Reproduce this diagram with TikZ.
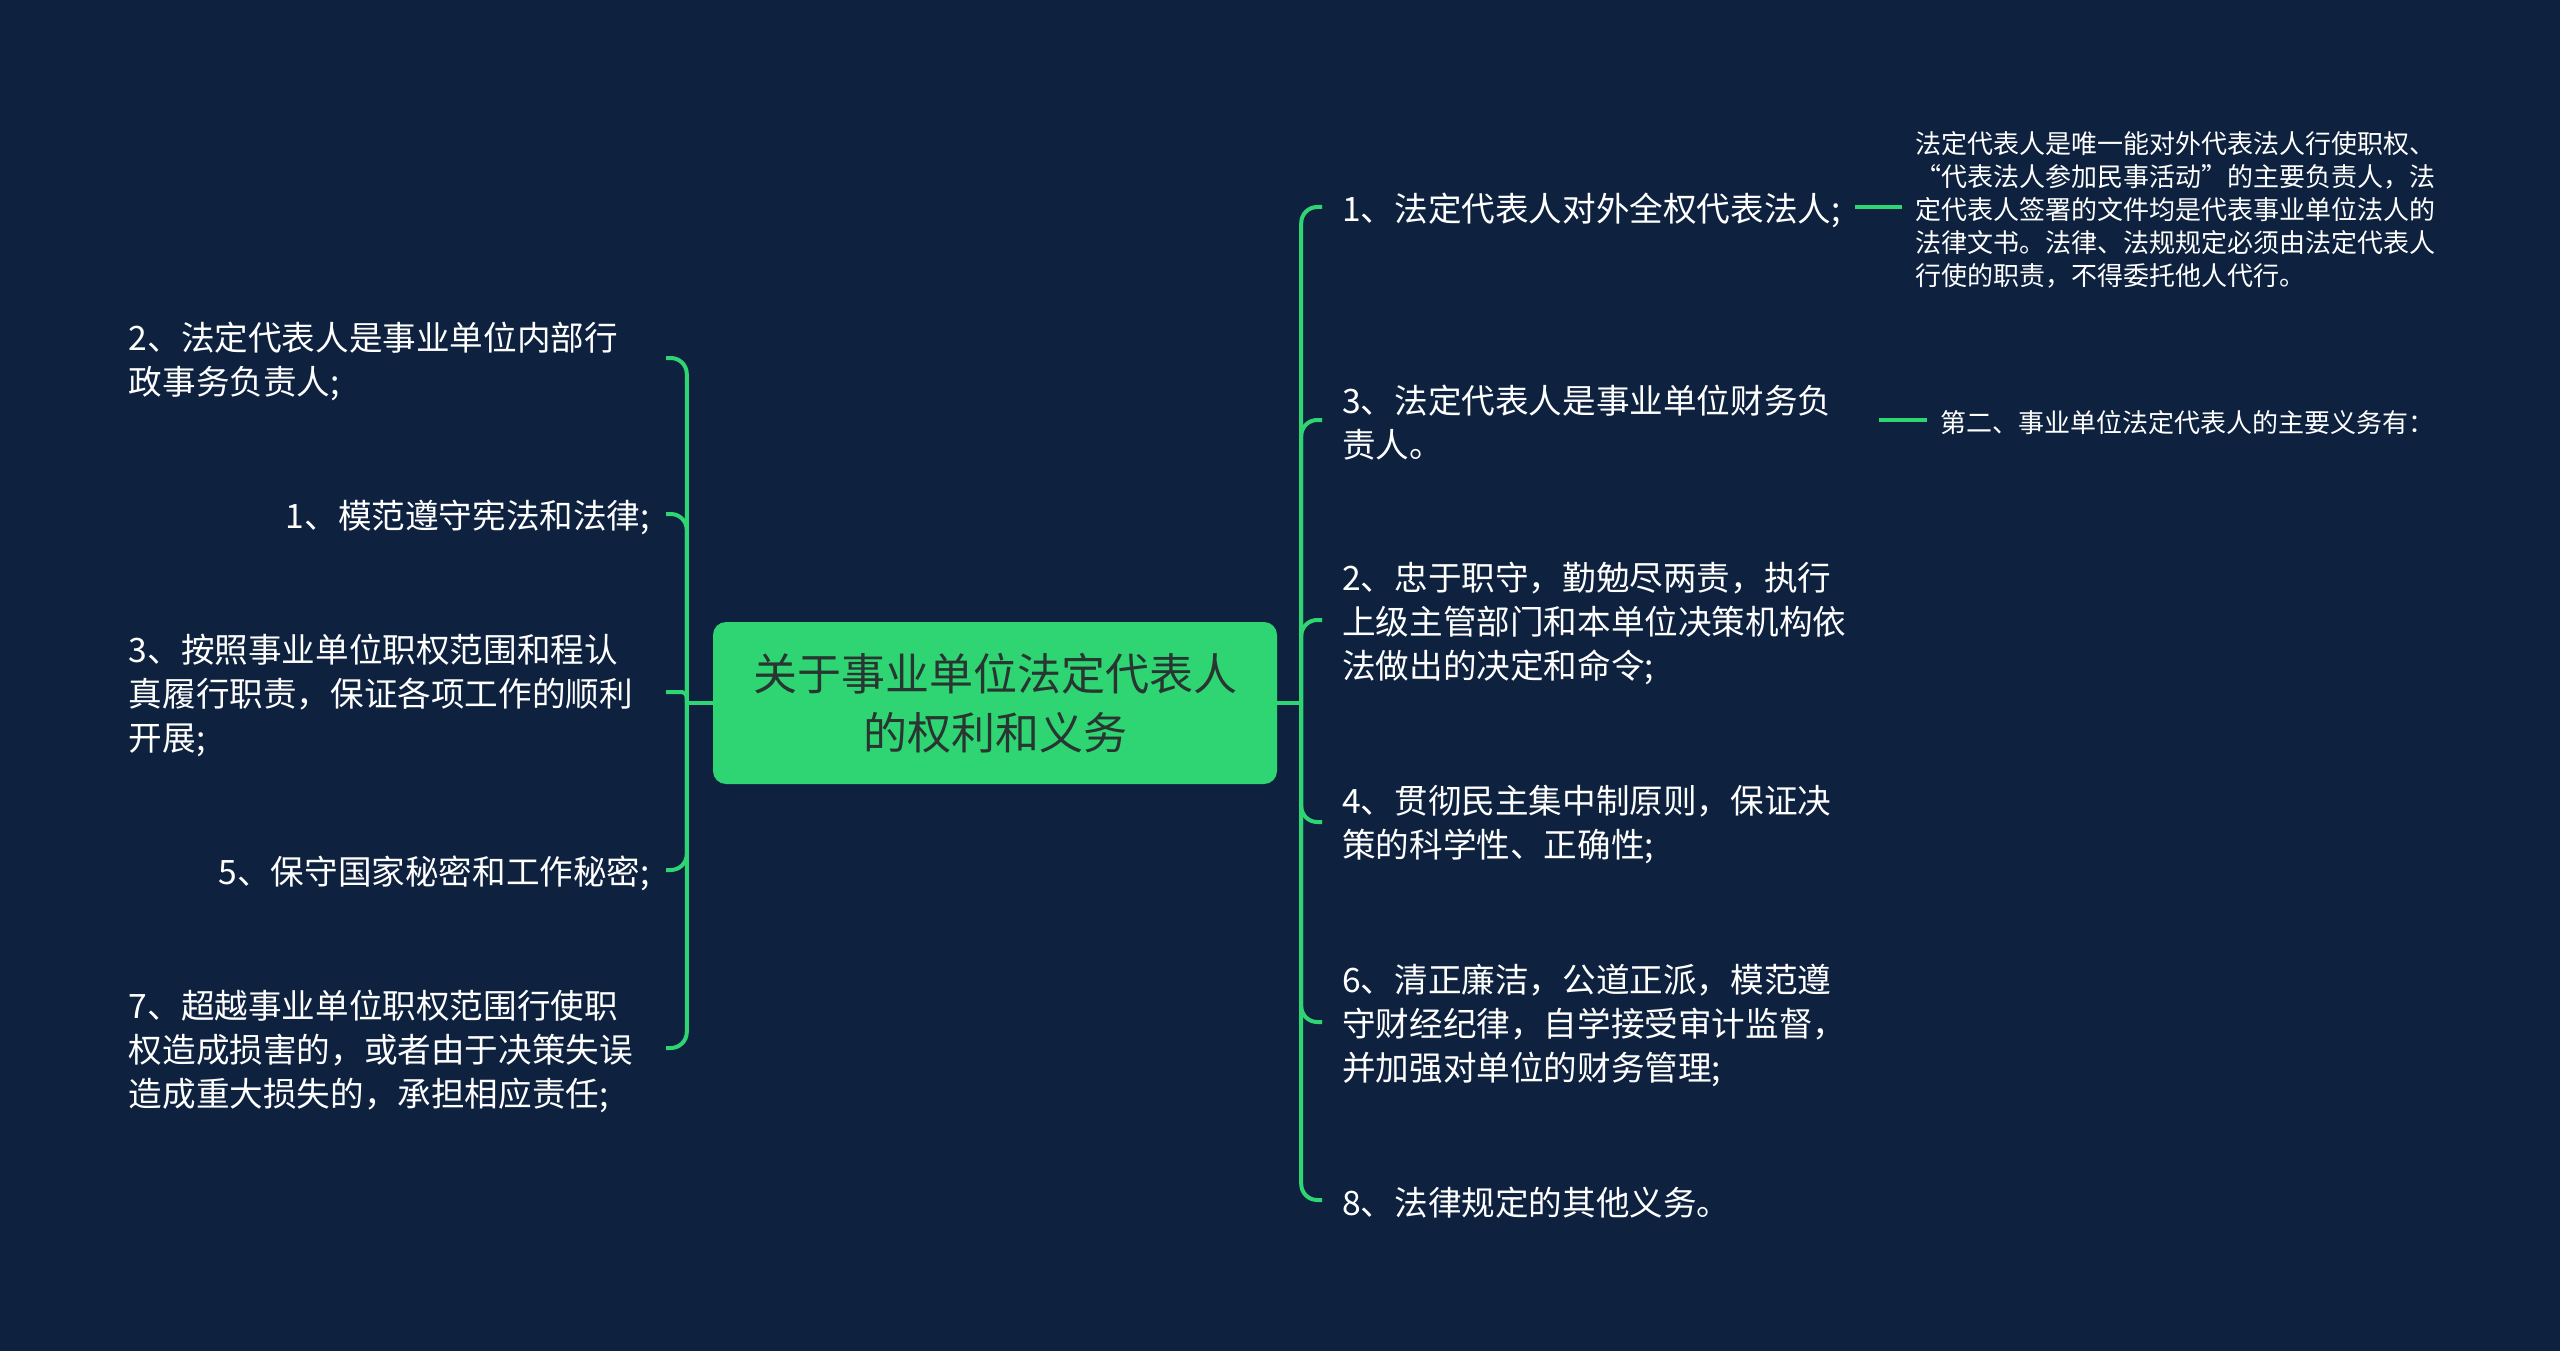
\documentclass[tikz,border=0pt]{standalone}
\usepackage{fontspec}
\setmainfont{Noto Sans CJK SC}
\usetikzlibrary{calc}
\definecolor{bg}{HTML}{0E223F}
\definecolor{gr}{HTML}{2FD573}
\definecolor{dk}{HTML}{283530}
\begin{document}
\begin{tikzpicture}[x=1pt,y=-1pt,
  conn/.style={draw=gr, line width=4pt, rounded corners=16pt},
  rootbox/.style={fill=gr, rounded corners=13pt, minimum width=564pt, minimum height=162pt,
    align=center, text=dk, inner sep=0pt, font=\fontsize{44pt}{59pt}\selectfont},
  ltxt/.style={text=white, inner sep=0pt, font=\fontsize{33.6pt}{44pt}\selectfont},
  lmulti/.style={ltxt, text width=521pt, align=left, anchor=east},
  lsingle/.style={ltxt, text width=521pt, align=right, anchor=east},
  rmulti/.style={ltxt, text width=525pt, align=left, anchor=west},
  rsingle/.style={ltxt, anchor=west},
  note/.style={text=white, inner sep=0pt, align=left, anchor=west, font=\fontsize{26pt}{33pt}\selectfont}
]
\useasboundingbox (0,0) rectangle (2560,1351);
\fill[bg] (0,0) rectangle (2560,1351);

% root
\node[rootbox] (root) at (995,703) {关于事业单位法定代表人\\的权利和义务};

% left children
\node[lmulti] (A) at (650,361) {2、法定代表人是事业单位内部行\\政事务负责人;};
\node[lsingle] (B) at (650,517) {1、模范遵守宪法和法律;};
\node[lmulti] (C) at (650,695) {3、按照事业单位职权范围和程认\\真履行职责，保证各项工作的顺利\\开展;};
\node[lsingle] (D) at (650,873) {5、保守国家秘密和工作秘密;};
\node[lmulti] (E) at (650,1051) {7、超越事业单位职权范围行使职\\权造成损害的，或者由于决策失误\\造成重大损失的，承担相应责任;};

% right children
\node[rsingle] (R1) at (1342,210) {1、法定代表人对外全权代表法人;};
\node[rmulti] (R2) at (1342,423) {3、法定代表人是事业单位财务负\\责人。};
\node[rmulti] (R3) at (1342,623) {2、忠于职守，勤勉尽两责，执行\\上级主管部门和本单位决策机构依\\法做出的决定和命令;};
\node[rmulti] (R4) at (1342,825) {4、贯彻民主集中制原则，保证决\\策的科学性、正确性;};
\node[rmulti] (R5) at (1342,1025) {6、清正廉洁，公道正派，模范遵\\守财经纪律，自学接受审计监督，\\并加强对单位的财务管理;};
\node[rsingle] (R6) at (1342,1203) {8、法律规定的其他义务。};

% third level
\node[note] (N1) at (1915,210) {法定代表人是唯一能对外代表法人行使职权、\\“代表法人参加民事活动”的主要负责人，法\\定代表人签署的文件均是代表事业单位法人的\\法律文书。法律、法规规定必须由法定代表人\\行使的职责，不得委托他人代行。};
\node[note] (N2) at (1940,423) {第二、事业单位法定代表人的主要义务有：};

% junctions
\coordinate (lj) at ([xshift=-26pt]root.west);
\coordinate (rj) at ([xshift=24pt]root.east);

\draw[conn] (root.west) -- (lj);
\draw[conn] (root.east) -- (rj);

\draw[conn] (lj) |- ([xshift=16pt,yshift=3pt]A.east);
\draw[conn] (lj) |- ([xshift=16pt,yshift=3pt]B.east);
\draw[conn, rounded corners=5pt] (lj) |- ([xshift=16pt,yshift=3pt]C.east);
\draw[conn] (lj) |- ([xshift=16pt,yshift=3pt]D.east);
\draw[conn] (lj) |- ([xshift=16pt,yshift=3pt]E.east);

\draw[conn] (rj) |- ([xshift=-20pt,yshift=3pt]R1.west);
\draw[conn] (rj) |- ([xshift=-20pt,yshift=3pt]R2.west);
\draw[conn] (rj) |- ([xshift=-20pt,yshift=3pt]R3.west);
\draw[conn] (rj) |- ([xshift=-20pt,yshift=3pt]R4.west);
\draw[conn] (rj) |- ([xshift=-20pt,yshift=3pt]R5.west);
\draw[conn] (rj) |- ([xshift=-20pt,yshift=3pt]R6.west);

\draw[conn] ([xshift=14pt,yshift=3pt]R1.east) -- ([xshift=-13pt,yshift=3pt]N1.west);
\draw[conn] ([xshift=12pt,yshift=3pt]R2.east) -- ([xshift=-13pt,yshift=3pt]N2.west);
\end{tikzpicture}
\end{document}
